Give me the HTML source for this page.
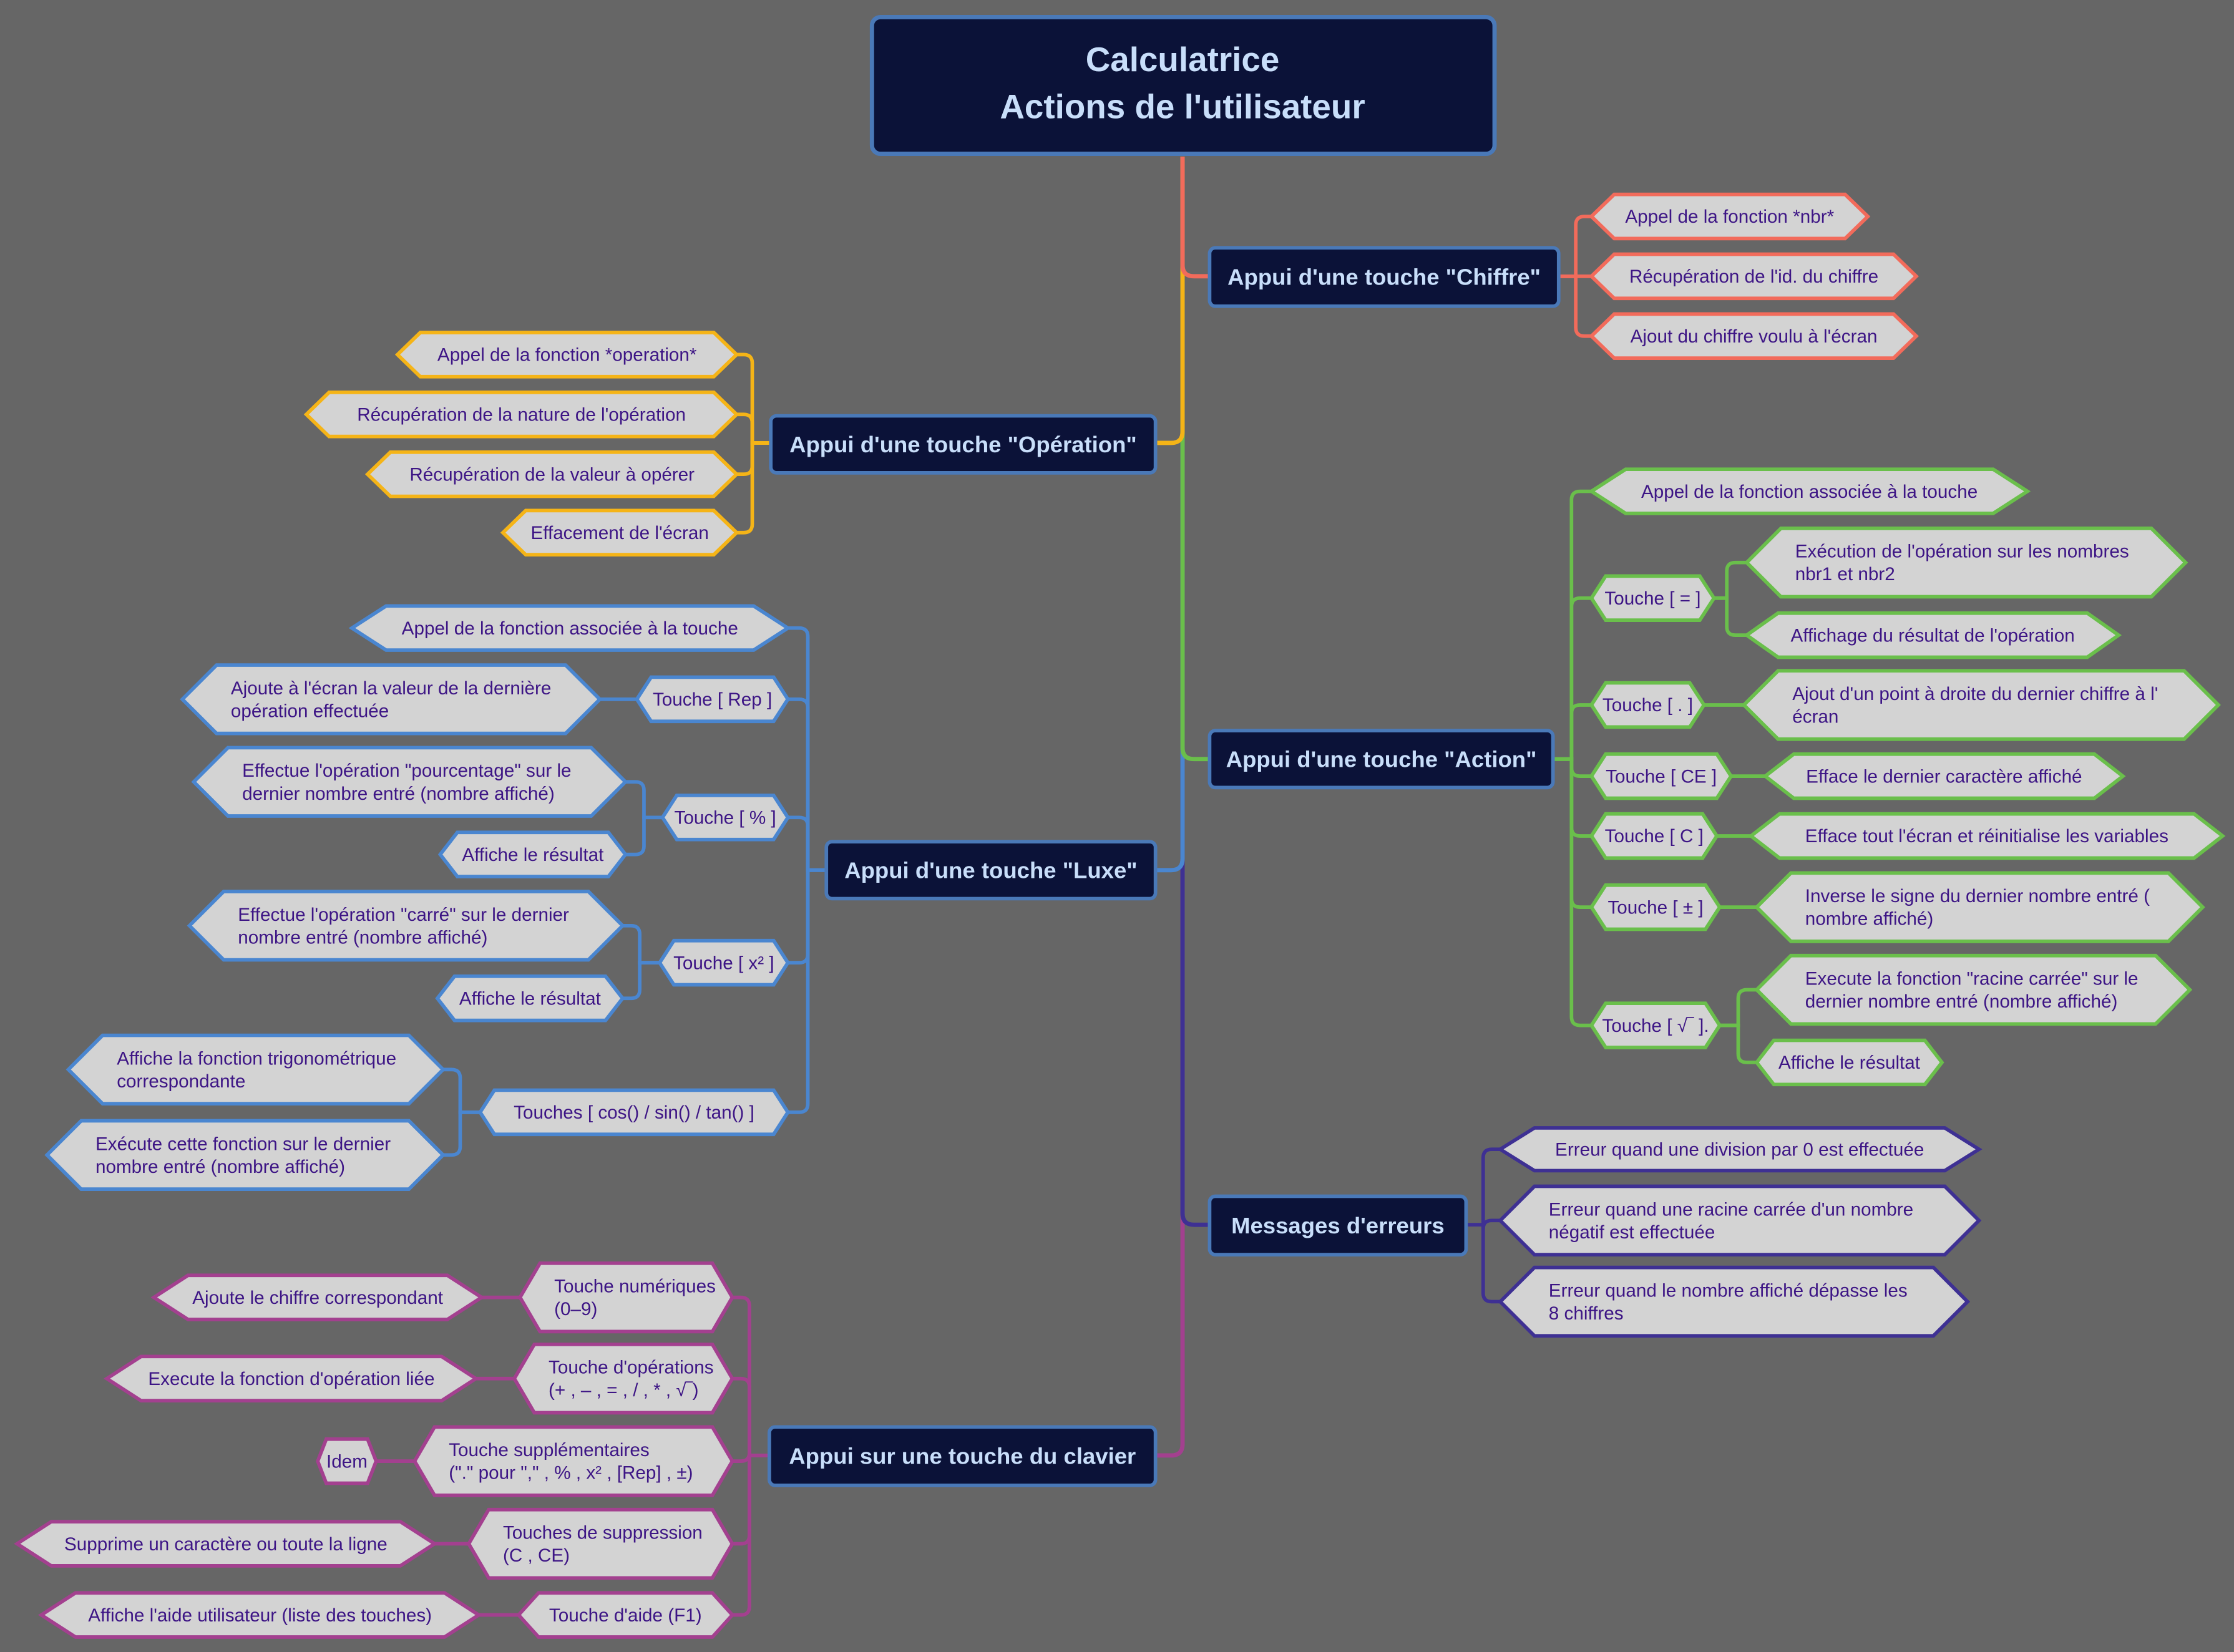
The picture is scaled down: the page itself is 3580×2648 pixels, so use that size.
<!DOCTYPE html>
<html><head><meta charset="utf-8">
<style>html,body{margin:0;padding:0;background:#666;}svg{display:block;}</style>
</head><body>
<svg id="s" xmlns="http://www.w3.org/2000/svg" width="3580" height="2648" viewBox="0 0 1568 1160" preserveAspectRatio="none" font-family="Liberation Sans, sans-serif">
<rect x="0" y="0" width="1568" height="1160" fill="#666"/>
<g id="L"></g><g id="N"></g>
</svg>
<script>
const NS="http://www.w3.org/2000/svg";
const L=document.getElementById('L'),N=document.getElementById('N');
function el(p,t,a,txt){const e=document.createElementNS(NS,t);for(const k in a)e.setAttribute(k,a[k]);if(txt!==undefined)e.textContent=txt;p.appendChild(e);return e;}
const TC="#3d1585";
function hex(x1,x2,cy,h,col,lines,ind){
  if(ind===undefined) ind=h>40?24:14;
  const t=cy-h/2,b=cy+h/2;
  el(N,'polygon',{points:`${x1},${cy} ${x1+ind},${t} ${x2-ind},${t} ${x2},${cy} ${x2-ind},${b} ${x1+ind},${b}`,fill:'#d3d3d3',stroke:col,'stroke-width':2.5,'stroke-linejoin':'miter'});
  if(lines.length==1){el(N,'text',{x:(x1+x2)/2,y:cy+4.5,'text-anchor':'middle','font-size':13,fill:TC},lines[0]);}
  else{const lx=x1+ind+10;el(N,'text',{x:lx,y:cy-3.5,'font-size':13,fill:TC},lines[0]);el(N,'text',{x:lx,y:cy+12.5,'font-size':13,fill:TC},lines[1]);}
}
function conn(px,py,bx,cx,cy,col,dir,w){
  const r=6;let d;
  if(Math.abs(cy-py)<2)d=`M${px},${py} H${cx}`;
  else{const s=Math.sign(cy-py);d=`M${px},${py} H${bx} V${cy-s*r} Q${bx},${cy} ${bx+dir*r},${cy} H${cx}`;}
  el(L,'path',{d:d,fill:'none',stroke:col,'stroke-width':w||2.5});
}
function rootc(y,dir,x,col){const r=8;el(L,'path',{d:`M830,110 V${y-r} Q830,${y} ${830+dir*r},${y} H${x}`,fill:'none',stroke:col,'stroke-width':3});}
function box(x1,y1,x2,y2,txt){el(N,'rect',{x:x1,y:y1,width:x2-x1,height:y2-y1,rx:4,fill:'#0b1238',stroke:'#4a79b8','stroke-width':2.5});el(N,'text',{x:(x1+x2)/2,y:(y1+y2)/2+5.5,'text-anchor':'middle','font-size':16,'font-weight':'bold',fill:'#c8defa'},txt);}

rootc(1022,-1,811,'#a3408f');
rootc(860,1,849,'#3e3093');
rootc(611,-1,811,'#4a86d0');
rootc(533,1,849,'#6abf4b');
rootc(311,-1,811,'#f5b417');
rootc(194,1,849,'#f26b5b');

el(N,'rect',{x:612,y:12,width:437,height:96,rx:6,fill:'#0b1238',stroke:'#4a79b8','stroke-width':3});
el(N,'text',{x:830,y:50,'text-anchor':'middle','font-size':24,'font-weight':'bold',fill:'#c8defa'},'Calculatrice');
el(N,'text',{x:830,y:83,'text-anchor':'middle','font-size':24,'font-weight':'bold',fill:'#c8defa'},"Actions de l'utilisateur");

let C='#f26b5b';
box(849,174,1094,215,'Appui d\'une touche "Chiffre"');
[[1117,1311,152,'Appel de la fonction *nbr*'],[1117,1345,194,"Récupération de l'id. du chiffre"],[1117,1345,236,"Ajout du chiffre voulu à l'écran"]].forEach(a=>{conn(1094,194,1106,a[0],a[2],C,1);hex(a[0],a[1],a[2],31,C,[a[3]],16);});

C='#f5b417';
box(541,292,811,332,'Appui d\'une touche "Opération"');
[[279,517,249,'Appel de la fonction *operation*'],[215,517,291,"Récupération de la nature de l'opération"],[258,517,333,'Récupération de la valeur à opérer'],[353,517,374,"Effacement de l'écran"]].forEach(a=>{conn(541,311,528,a[1],a[2],C,-1);hex(a[0],a[1],a[2],31,C,[a[3]],16);});

C='#6abf4b';
box(849,513,1090,553,'Appui d\'une touche "Action"');
function act(x2,cy,label){conn(1090,533,1103,1117,cy,C,1);hex(1117,x2,cy,31,C,[label],10);}
conn(1090,533,1103,1117,345,C,1);hex(1117,1423,345,31,C,['Appel de la fonction associée à la touche'],24);
act(1203,420,'Touche [ = ]');
conn(1203,420,1212,1226,395,C,1);hex(1226,1534,395,48,C,["Exécution de l'opération sur les nombres",'nbr1 et nbr2']);
conn(1203,420,1212,1226,446,C,1);hex(1226,1487,446,31,C,["Affichage du résultat de l'opération"],22);
act(1196,495,'Touche [ . ]');
conn(1196,495,1210,1224,495,C,1);hex(1224,1557,495,48,C,["Ajout d'un point à droite du dernier chiffre à l'",'écran']);
act(1215,545,'Touche [ CE ]');
conn(1215,545,1227,1239,545,C,1);hex(1239,1490,545,31,C,['Efface le dernier caractère affiché'],20);
act(1205,587,'Touche [ C ]');
conn(1205,587,1217,1229,587,C,1);hex(1229,1560,587,31,C,["Efface tout l'écran et réinitialise les variables"],20);
act(1207,637,'Touche [ ± ]');
conn(1207,637,1220,1233,637,C,1);hex(1233,1546,637,48,C,['Inverse le signe du dernier nombre entré (','nombre affiché)']);
act(1207,720,'Touche [ √‾ ].');
conn(1207,720,1220,1233,695,C,1);hex(1233,1537,695,48,C,['Execute la fonction "racine carrée" sur le','dernier nombre entré (nombre affiché)']);
conn(1207,720,1220,1233,746,C,1);hex(1233,1363,746,31,C,['Affiche le résultat'],12);

C='#4a86d0';
box(580,591,811,631,'Appui d\'une touche "Luxe"');
function lx(x1,cy,label){conn(580,611,567,553,cy,C,-1);hex(x1,553,cy,31,C,[label],10);}
conn(580,611,567,553,441,C,-1);hex(247,553,441,31,C,['Appel de la fonction associée à la touche'],24);
lx(447,491,'Touche [ Rep ]');
conn(447,491,434,421,491,C,-1);hex(128,421,491,48,C,["Ajoute à l'écran la valeur de la dernière",'opération effectuée']);
lx(465,574,'Touche [ % ]');
conn(465,574,452,439,549,C,-1);hex(136,439,549,48,C,['Effectue l\'opération "pourcentage" sur le','dernier nombre entré (nombre affiché)']);
conn(465,574,452,439,600,C,-1);hex(309,439,600,31,C,['Affiche le résultat'],12);
lx(463,676,'Touche [ x² ]');
conn(463,676,449,437,650,C,-1);hex(133,437,650,48,C,['Effectue l\'opération "carré" sur le dernier','nombre entré (nombre affiché)']);
conn(463,676,449,437,701,C,-1);hex(307,437,701,31,C,['Affiche le résultat'],12);
lx(337,781,'Touches [ cos() / sin() / tan() ]');
conn(337,781,323,311,751,C,-1);hex(48,311,751,48,C,['Affiche la fonction trigonométrique','correspondante']);
conn(337,781,323,311,811,C,-1);hex(33,311,811,48,C,['Exécute  cette fonction sur le dernier','nombre entré (nombre affiché)']);

C='#3e3093';
box(849,840,1029,881,"Messages d'erreurs");
conn(1029,860,1041,1053,807,C,1);hex(1053,1389,807,30,C,['Erreur quand une division par 0 est effectuée'],24);
conn(1029,860,1041,1053,857,C,1);hex(1053,1389,857,48,C,["Erreur quand une racine carrée d'un nombre",'négatif est effectuée']);
conn(1029,860,1041,1053,914,C,1);hex(1053,1381,914,48,C,['Erreur quand le nombre affiché dépasse les','8 chiffres']);

C='#a3408f';
box(540,1002,811,1043,'Appui sur une touche du clavier');
function kv(x1,cy,lines,cx1,cx2,clabel){
  conn(540,1022,526,514,cy,C,-1);
  hex(x1,514,cy,lines.length>1?48:31,C,lines,14);
  conn(x1,cy,x1-10,cx2,cy,C,-1);
  hex(cx1,cx2,cy,31,C,[clabel],cx2-cx1<60?6:24);
}
kv(365,911,['Touche numériques','(0–9)'],108,338,'Ajoute le chiffre correspondant');
kv(361,968,["Touche d'opérations",'(+ , – , = , / , * , √‾)'],75,334,"Execute la fonction d'opération liée");
kv(291,1026,['Touche supplémentaires','("." pour "," , % , x² , [Rep] , ±)'],223,264,'Idem');
kv(329,1084,['Touches de suppression','(C , CE)'],12,305,'Supprime un caractère ou toute la ligne');
kv(364,1134,["Touche d'aide (F1)"],29,336,"Affiche l'aide utilisateur (liste des touches)");
</script>
</body></html>
